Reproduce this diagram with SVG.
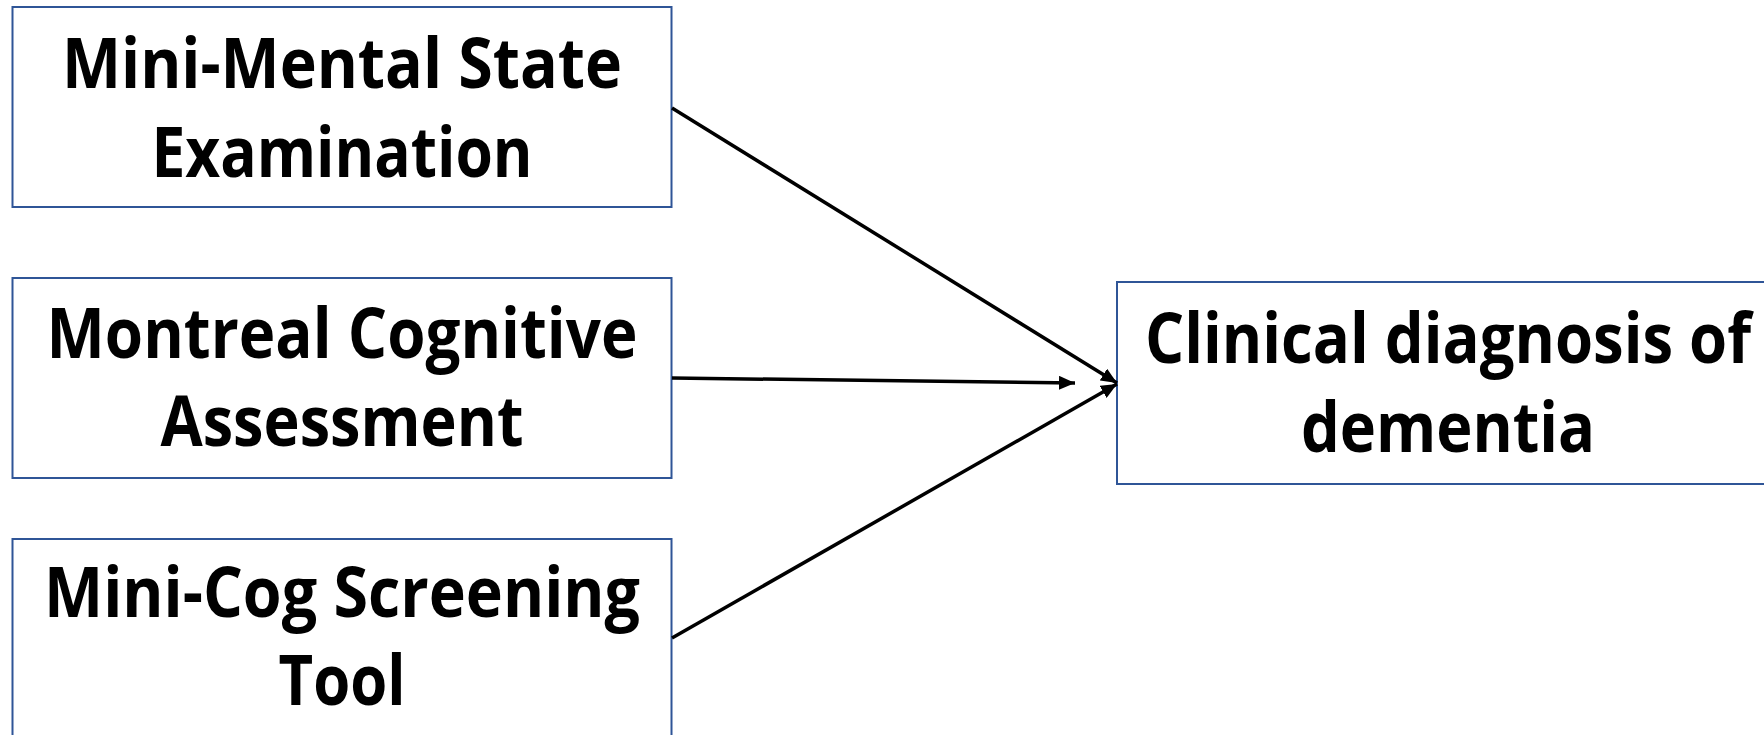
<svg xmlns="http://www.w3.org/2000/svg" width="1764" height="735" viewBox="0 0 1764 735">
<style>
.box{fill:#fff;stroke:#2f5597;stroke-width:2}
.t{font-family:"Open Sans","Liberation Sans",sans-serif;font-weight:bold;font-size:69px;fill:#000;text-anchor:middle}
.c{stroke:#000;stroke-width:3.5;fill:none}
</style>
<defs>
<marker id="ah" markerUnits="userSpaceOnUse" markerWidth="16" markerHeight="14" refX="16" refY="7" orient="auto">
<path d="M0,0 L16,7 L0,14 z" fill="#000"/>
</marker>
</defs>
<rect width="1764" height="735" fill="#fff"/>
<g id="n1">
<rect class="box" x="12.5" y="7" width="659" height="200"/>
<text class="t" x="342" y="88" textLength="560" lengthAdjust="spacingAndGlyphs">Mini-Mental State</text>
<text class="t" x="342" y="177" textLength="381" lengthAdjust="spacingAndGlyphs">Examination</text>
</g>
<g id="n2">
<rect class="box" x="12.5" y="278" width="659" height="200"/>
<text class="t" x="342" y="358" textLength="591" lengthAdjust="spacingAndGlyphs">Montreal Cognitive</text>
<text class="t" x="342" y="446" textLength="363" lengthAdjust="spacingAndGlyphs">Assessment</text>
</g>
<g id="n3">
<rect class="box" x="12.5" y="539" width="659" height="210"/>
<text class="t" x="342" y="617" textLength="596" lengthAdjust="spacingAndGlyphs">Mini-Cog Screening</text>
<text class="t" x="342" y="705" textLength="127" lengthAdjust="spacingAndGlyphs">Tool</text>
</g>
<g id="n4">
<rect class="box" x="1117" y="282" width="670" height="202"/>
<text class="t" x="1448" y="363" textLength="606" lengthAdjust="spacingAndGlyphs">Clinical diagnosis of</text>
<text class="t" x="1448" y="452" textLength="294" lengthAdjust="spacingAndGlyphs">dementia</text>
</g>
<g id="connectors">
<line class="c" x1="672" y1="108" x2="1117" y2="383" marker-end="url(#ah)"/>
<line class="c" x1="672" y1="378" x2="1075" y2="383" marker-end="url(#ah)"/>
<line class="c" x1="672" y1="638" x2="1117" y2="384" marker-end="url(#ah)"/>
</g>
</svg>
